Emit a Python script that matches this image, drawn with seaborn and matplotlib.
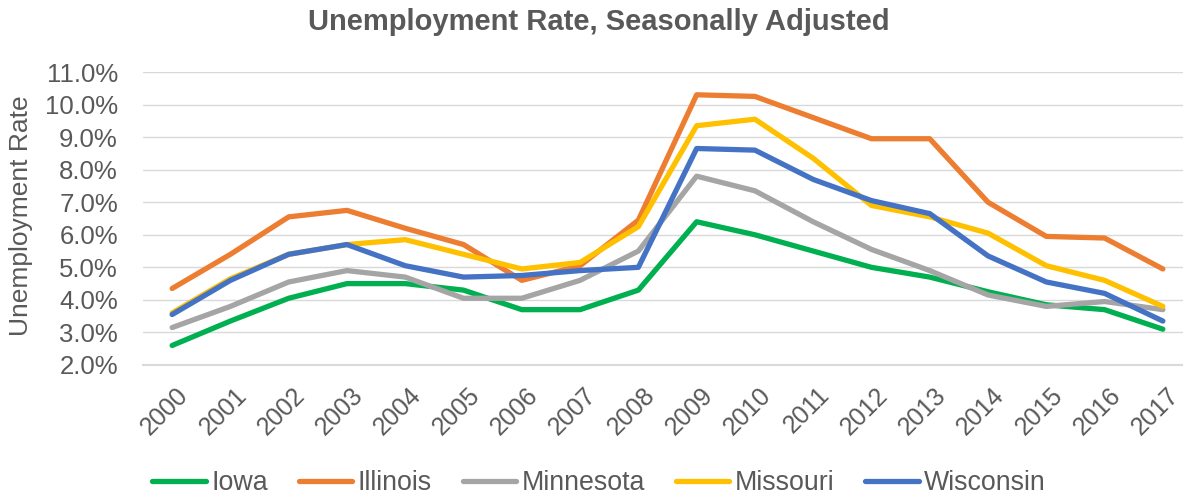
import pandas as pd
import matplotlib.pyplot as plt
import seaborn as sns
from matplotlib.ticker import PercentFormatter
from matplotlib.transforms import ScaledTranslation

# Annual unemployment rates (%)
years = list(range(2000, 2018))
iowa = [2.6, 3.35, 4.05, 4.5, 4.5, 4.3, 3.7, 3.7, 4.3,
        6.4, 6.0, 5.5, 5.0, 4.7, 4.25, 3.85, 3.7, 3.1]
illinois = [4.35, 5.4, 6.55, 6.75, 6.2, 5.7, 4.6, 5.05, 6.45,
            10.3, 10.25, 9.6, 8.95, 8.95, 7.0, 5.95, 5.9, 4.95]
minnesota = [3.15, 3.8, 4.55, 4.9, 4.7, 4.05, 4.05, 4.6, 5.5,
             7.8, 7.35, 6.4, 5.55, 4.9, 4.15, 3.8, 3.95, 3.7]
missouri = [3.6, 4.65, 5.4, 5.7, 5.85, 5.4, 4.95, 5.15, 6.25,
            9.35, 9.55, 8.35, 6.9, 6.55, 6.05, 5.05, 4.6, 3.8]
wisconsin = [3.55, 4.6, 5.4, 5.7, 5.05, 4.7, 4.75, 4.9, 5.0,
             8.65, 8.6, 7.7, 7.05, 6.65, 5.35, 4.55, 4.2, 3.35]

states = ["Iowa", "Illinois", "Minnesota", "Missouri", "Wisconsin"]
colors = ["#00B050", "#ED7D31", "#A5A5A5", "#FFC000", "#4472C4"]

rows = []
for name, vals in zip(states, [iowa, illinois, minnesota, missouri, wisconsin]):
    for y, v in zip(years, vals):
        rows.append({"year": y, "rate": v, "state": name})
df = pd.DataFrame(rows)

sns.set_style("white")
plt.rcParams["font.family"] = ["Liberation Sans", "DejaVu Sans"]
text_color = "#595959"

fig = plt.figure(figsize=(11.83, 4.97), dpi=100)
ax = fig.add_axes([143 / 1183, 1 - 365 / 497, (1192 - 143) / 1183, (365 - 72) / 497])

sns.lineplot(data=df, x="year", y="rate", hue="state", hue_order=states,
             palette=colors, linewidth=3.8, sort=False, ax=ax)

ax.set_xlim(1999.5, 2017.5)
ax.set_ylim(2, 11)
ax.set_yticks(range(2, 12))
ax.yaxis.set_major_formatter(PercentFormatter(decimals=1))
ax.set_xticks(years)
ax.set_xticklabels([str(y) for y in years], rotation=45, ha="right",
                   rotation_mode="anchor")
ax.tick_params(axis="both", length=0, colors=text_color)
ax.tick_params(axis="y", pad=18, labelsize=18.5)
ax.tick_params(axis="x", pad=13, labelsize=18)

# nudge year labels slightly right, as in the original
shift = ScaledTranslation(4 / 100, 0, fig.dpi_scale_trans)
for lbl in ax.get_xticklabels():
    lbl.set_transform(lbl.get_transform() + shift)

ax.grid(axis="y", color="#D9D9D9", linewidth=1)
ax.set_axisbelow(True)
for side in ["top", "right", "left"]:
    ax.spines[side].set_visible(False)
ax.spines["bottom"].set_color("#D9D9D9")
ax.spines["bottom"].set_linewidth(1.5)

ax.set_xlabel("")
ax.set_ylabel("")
fig.text(21 / 1183, 1 - 216 / 497, "Unemployment Rate", rotation=90,
         ha="center", va="center", fontsize=19, color=text_color)

fig.text(599 / 1183, 1 - 22 / 497, "Unemployment Rate, Seasonally Adjusted",
         ha="center", va="center", fontsize=21, fontweight="bold",
         color=text_color)

handles, labels = ax.get_legend_handles_labels()
ax.legend(handles, labels, loc="center", bbox_to_anchor=(599 / 1183, 1 - 483 / 497),
          bbox_transform=fig.transFigure, ncol=5, frameon=False,
          fontsize=19.3, labelcolor=text_color, handlelength=2.0,
          handletextpad=0.2, columnspacing=1.15)

plt.savefig("out.png", dpi=100)
plt.close()
